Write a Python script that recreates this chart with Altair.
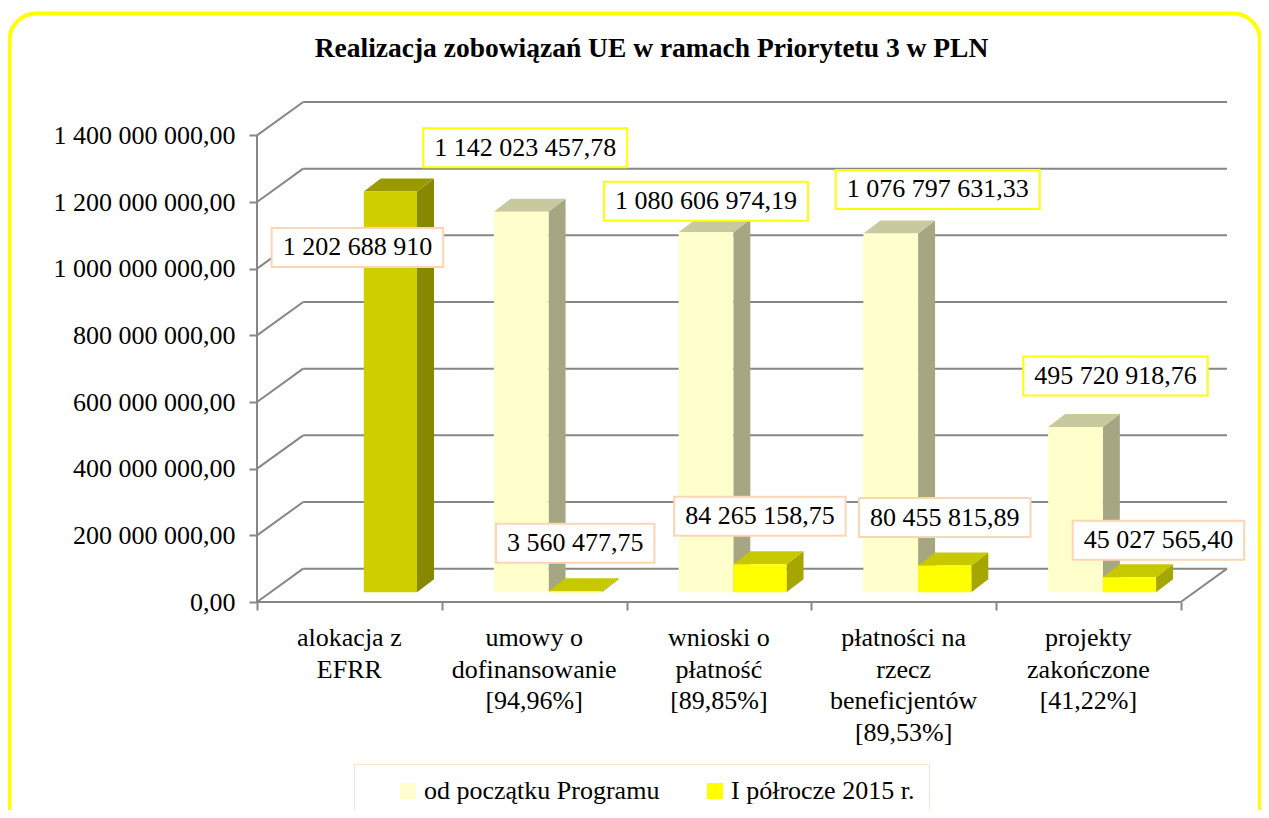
import altair as alt
import pandas as pd

# ---------------- data ----------------
category_lines = [
    ["alokacja z", "EFRR"],
    ["umowy o", "dofinansowanie", "[94,96%]"],
    ["wnioski o", "płatność", "[89,85%]"],
    ["płatności na", "rzecz", "beneficjentów", "[89,53%]"],
    ["projekty", "zakończone", "[41,22%]"],
]
series_names = ["od początku Programu", "I półrocze 2015 r."]
alokacja_efrr = [1202688910.0, None, None, None, None]
od_poczatku = [None, 1142023457.78, 1080606974.19, 1076797631.33, 495720918.76]
polrocze = [None, 3560477.75, 84265158.75, 80455815.89, 45027565.40]
y_ticks = [0, 200e6, 400e6, 600e6, 800e6, 1000e6, 1200e6, 1400e6]
title_text = "Realizacja zobowiązań UE w ramach Priorytetu 3 w PLN"

# ---------------- geometry of the pseudo-3D box (scale units) ----------------
N = len(category_lines)
W, H = 970, 500
DEPTH_X, DEPTH_Y = 0.25, 1.0e8
X_MAX, Y_MAX = N + DEPTH_X, 1.5e9
CAT_PX = W / X_MAX
Y_PER_PX = Y_MAX / H
BASE = 2.9e7
SIDE_X, SIDE_Y = 0.092, 3.9e7
SLOTS = {"s1": (0.282, 0.578), "s2": (0.578, 0.866), "alo": (0.578, 0.866)}
COLORS = {
    "s1": {"front": "#FFFFCC", "top": "#C9C9A0", "side": "#A6A682", "box": "#FFFF00"},
    "s2": {"front": "#FFFF00", "top": "#C8C800", "side": "#A6A600", "box": "#FCD5B5"},
    "alo": {"front": "#CFCF00", "top": "#9A9A00", "side": "#888800", "box": "#FCD5B5"},
}
GRID = "#878787"
FONT = "Liberation Serif"
FS = 26
label_nudge = {("alo", 0): (-33, -56), ("s1", 1): (4, 64), ("s1", 2): (0, 31),
               ("s1", 3): (47, 44), ("s1", 4): (40, 51), ("s2", 4): (29, 37)}


def pl_format(v, decimals=2):
    return f"{v:,.{decimals}f}".replace(",", " ").replace(".", ",")


def em_width(s):
    return sum(0.5 if ch.isdigit() else 0.25 for ch in s)


bars = []
for kind, vals, sname in (("s1", od_poczatku, series_names[0]),
                          ("s2", polrocze, series_names[1]),
                          ("alo", alokacja_efrr, None)):
    for i, v in enumerate(vals):
        if v is None:
            continue
        xl, xr = i + SLOTS[kind][0], i + SLOTS[kind][1]
        bars.append(dict(bid=f"{kind}{i}", kind=kind, cat=i, series=sname, value=v,
                         xl=xl, xr=xr, base=BASE, top=BASE + v,
                         text=pl_format(v, 0 if kind == "alo" else 2)))
bars_df = pd.DataFrame(bars)

side_rows, top_rows, label_rows = [], [], []
for b in bars:
    side_rows += [dict(bid=b["bid"], kind=b["kind"], x=b["xr"], y=b["base"], y2=b["top"]),
                  dict(bid=b["bid"], kind=b["kind"], x=b["xr"] + SIDE_X,
                       y=b["base"] + SIDE_Y, y2=b["top"] + SIDE_Y)]
    top_rows += [dict(bid=b["bid"], kind=b["kind"], y=b["top"], x=b["xl"], x2=b["xr"]),
                 dict(bid=b["bid"], kind=b["kind"], y=b["top"] + SIDE_Y,
                      x=b["xl"] + SIDE_X, x2=b["xr"] + SIDE_X)]
    shift, gap = label_nudge.get((b["kind"], b["cat"]), (0, 48))
    cx = (b["xl"] + b["xr"]) / 2 + shift / CAT_PX
    cy = b["top"] + gap * Y_PER_PX
    half_w = (em_width(b["text"]) * FS + 22) / 2 / CAT_PX
    half_h = 19.5 * Y_PER_PX
    label_rows.append(dict(text=b["text"], kind=b["kind"], cx=cx, cy=cy,
                           x0=cx - half_w, x1=cx + half_w, y0=cy - half_h, y1=cy + half_h,
                           box=COLORS[b["kind"]]["box"]))
side_df = pd.DataFrame(side_rows)
top_df = pd.DataFrame(top_rows)
label_df = pd.DataFrame(label_rows)

grid_df = pd.DataFrame({"v": y_ticks})
grid_df["vb"] = grid_df["v"] + DEPTH_Y
grid_df["x0"] = 0.0
grid_df["xb"] = DEPTH_X
grid_df["xe"] = N + DEPTH_X
cat_df = pd.DataFrame({"x": [i + 0.5 for i in range(N)], "y": [0] * N,
                       "label": ["\n".join(l) for l in category_lines]})

xs = alt.Scale(domain=[0, X_MAX], nice=False, zero=False)
ys = alt.Scale(domain=[0, Y_MAX], nice=False, zero=False)
AX_X = alt.Axis(values=list(range(N + 1)), labels=False, domain=False, grid=False,
                ticks=True, tickSize=8, tickColor=GRID, tickWidth=2, title=None)
AX_Y = alt.Axis(values=y_ticks, format=",.2f", grid=False, domain=False, tickSize=8,
                tickColor=GRID, tickWidth=2, labelFont=FONT, labelFontSize=FS,
                labelColor="black", labelPadding=14, labelLimit=400, title=None)


def X(f):
    return alt.X(f, type="quantitative", scale=xs, axis=AX_X)


def Y(f):
    return alt.Y(f, type="quantitative", scale=ys, axis=AX_Y)


back = alt.Chart(grid_df).mark_rule(color=GRID, strokeWidth=2).encode(
    x=X("xb"), x2="xe:Q", y=Y("vb"))
side_wall = alt.Chart(grid_df).mark_rule(color=GRID, strokeWidth=2).encode(
    x=X("x0"), x2="xb:Q", y=Y("v"), y2="vb:Q")

floor_df = pd.DataFrame({"x": [0, 0, N], "x2": [N, 0, N + DEPTH_X],
                         "y": [0, 0, 0], "y2": [0, y_ticks[-1], DEPTH_Y]})
floor = alt.Chart(floor_df).mark_rule(color=GRID, strokeWidth=2).encode(
    x=X("x"), x2="x2:Q", y=Y("y"), y2="y2:Q")

layers = [back, side_wall, floor]


def side_layer(kind):
    return alt.Chart(side_df[side_df.kind == kind]).mark_area(
        color=COLORS[kind]["side"], opacity=1).encode(
        x=X("x"), y=Y("y"), y2="y2:Q", detail="bid:N")


def top_layer(kind):
    return alt.Chart(top_df[top_df.kind == kind]).mark_area(
        orient="horizontal", color=COLORS[kind]["top"], opacity=1).encode(
        y=Y("y"), x=X("x"), x2="x2:Q", detail="bid:N")


layers += [side_layer("s1"), top_layer("s1"), side_layer("s2"), top_layer("s2")]

fronts = alt.Chart(bars_df[bars_df.kind != "alo"]).mark_rect().encode(
    x=X("xl"), x2="xr:Q", y=Y("base"), y2="top:Q",
    color=alt.Color("series:N",
                    scale=alt.Scale(domain=series_names,
                                    range=[COLORS["s1"]["front"], COLORS["s2"]["front"]]),
                    legend=alt.Legend(orient="none", legendX=97, legendY=662,
                                      direction="horizontal", title=None,
                                      symbolType="square", symbolSize=260,
                                      symbolStrokeWidth=0, symbolOffset=27,
                                      labelFont=FONT, labelFontSize=FS, labelColor="black",
                                      labelOffset=3, columnPadding=15, padding=14,
                                      strokeColor="#FBE3D0", fillColor="white",
                                      labelLimit=400)),
)
layers.append(fronts)

alo = bars_df[bars_df.kind == "alo"]
layers += [
    side_layer("alo"),
    top_layer("alo"),
    alt.Chart(alo).mark_rect(color=COLORS["alo"]["front"]).encode(
        x=X("xl"), x2="xr:Q", y=Y("base"), y2="top:Q"),
]

boxes = alt.Chart(label_df).mark_rect(fill="white", strokeWidth=2).encode(
    x=X("x0"), x2="x1:Q", y=Y("y0"), y2="y1:Q",
    stroke=alt.Stroke("box:N", scale=None))
texts = alt.Chart(label_df).mark_text(font=FONT, fontSize=FS, color="black",
                                      align="center", baseline="middle").encode(
    x=X("cx"), y=Y("cy"), text="text:N")

cats = alt.Chart(cat_df).mark_text(font=FONT, fontSize=FS, color="black", align="center",
                                   baseline="top", dy=23, lineBreak="\n",
                                   lineHeight=31.5).encode(
    x=X("x"), y=Y("y"), text="label:N")

deco = pd.DataFrame({"title": [title_text]})
frame = alt.Chart(deco).mark_rect(
    filled=False, stroke="#FFFF00", strokeWidth=4, cornerRadius=27).encode(
    x=alt.value(-247.5), x2=alt.value(1003), y=alt.value(-88.5), y2=alt.value(740))
title = alt.Chart(deco).mark_text(font=FONT, fontSize=27.5, fontWeight="bold", color="black",
                                  align="center", baseline="alphabetic").encode(
    x=alt.value(394.5), y=alt.value(-45), text="title:N")

layers += [boxes, texts, cats, frame, title]

chart = alt.layer(*layers).properties(
    width=W, height=H,
    autosize=alt.AutoSizeParams(type="none"),
    padding={"left": 249, "top": 94, "right": 34, "bottom": 208},
).configure(
    font=FONT,
    locale={"number": {"decimal": ",", "thousands": " ", "grouping": [3],
                       "currency": ["", " zł"]}},
).configure_view(stroke=None).configure_text(font=FONT)

chart.save("out.html", embed_options={"renderer": "svg", "actions": False})
